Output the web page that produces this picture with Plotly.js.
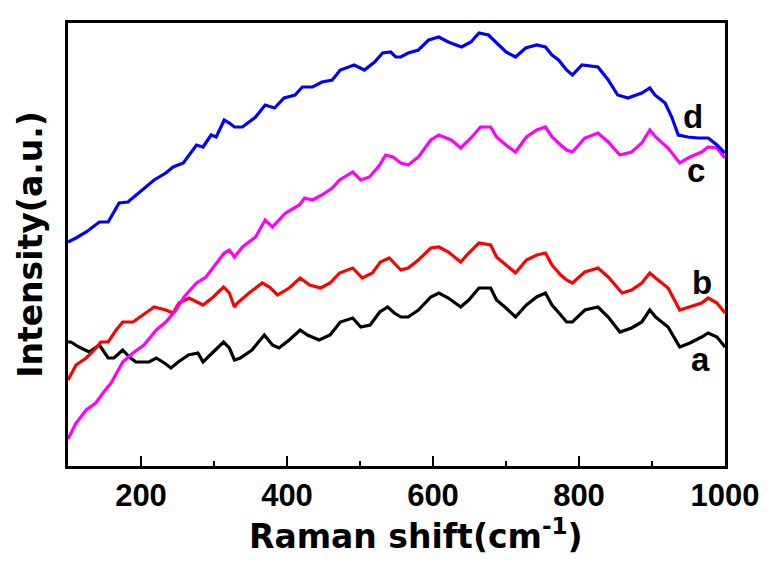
<!DOCTYPE html>
<html>
<head>
<meta charset="utf-8">
<script src="https://cdn.plot.ly/plotly-3.0.1.min.js"></script>
<style>html,body{margin:0;padding:0;background:#fff;}#chart{width:769px;height:562px;}</style>
</head>
<body>
<div id="chart"></div>
<script>
// Raman shift (cm^-1) and intensity (a.u.)
const xA = [100,104,115,129,143,155,163,175,184,193,211,221,232,241,251,265,278,285,299,313,321,328,
  336,352,369,380,389,403,418,428,444,459,473,490,501,514,527,538,547,556,
  566,580,597,608,621,638,649,663,679,687,700,713,728,742,754,763,775,783,
  791,808,826,840,856,872,886,897,905,922,938,952,968,977,989,1000];
const yA = [124,124,119,114,121,108,108,116,109,104,104,108,103,98,104,111,113,104,114,124,118,106,
  108,116,131,121,118,126,136,131,126,131,144,148,139,141,154,159,153,149,
  149,156,169,173,168,159,166,178,178,166,158,149,161,169,173,161,151,144,
  144,156,159,149,134,138,144,156,149,139,119,123,129,133,129,119];

const xB = [100,111,125,136,145,155,166,175,189,203,218,234,244,252,266,285,299,313,321,328,
  332,348,366,376,387,403,418,431,446,459,472,490,503,517,528,540,549,556,
  566,580,597,608,621,638,649,663,679,687,700,713,728,742,754,763,775,783,
  791,808,826,840,859,872,886,897,905,922,938,952,968,977,989,1000];
const yB = [86,101,108,116,124,124,136,144,144,151,159,156,153,163,168,161,169,179,173,159,
  163,173,183,179,171,178,188,181,178,183,193,198,188,193,204,208,201,196,
  198,206,218,219,214,204,213,223,221,209,201,193,206,211,213,201,191,186,
  183,194,198,189,173,176,183,193,188,178,156,159,163,168,163,153];

const xC = [100,111,125,138,149,159,175,189,204,221,234,248,259,276,289,300,314,321,328,
  339,357,370,380,398,417,424,435,448,462,472,490,501,513,527,535,545,556,
  566,580,597,608,625,638,652,665,679,687,700,713,728,742,754,763,775,783,
  791,808,826,840,856,872,886,897,905,922,938,952,968,977,989,1000];
const yC = [27,43,56,63,74,83,104,113,121,136,144,156,169,183,189,199,213,216,209,
  219,229,246,239,253,261,268,266,271,278,286,294,286,289,301,311,309,303,
  301,309,326,331,326,318,328,339,339,329,321,314,329,336,339,329,321,316,
  314,328,333,324,311,314,323,336,329,318,303,309,314,319,318,308];

const xD = [100,111,125,143,155,170,182,197,218,234,244,258,276,285,296,303,314,321,328,
  339,357,370,383,396,411,421,435,448,462,473,492,506,520,531,542,549,556,
  566,580,594,608,621,639,652,663,676,687,700,713,727,742,754,763,772,783,
  791,804,826,840,853,867,886,897,904,918,927,936,949,963,977,989,1000];
const yD = [224,228,234,244,244,263,264,273,286,293,299,303,321,319,331,329,346,343,339,
  339,349,361,358,368,371,379,379,384,386,396,401,396,404,413,414,409,409,
  413,416,426,429,424,419,424,433,431,423,414,409,418,421,419,411,406,396,
  391,401,399,386,371,368,373,378,371,363,349,331,329,328,328,321,313];

const curveLabels = ['a','b','c','d'];
const labelX = [966,969,960,956];
const labelY = [107,184,296,350];

const xTickVals = [200,400,600,800,1000];
const xTickText = ['200','400','600','800','1000'];

const series = [
  {x:xA, y:yA, color:'#000000', name:'a'},
  {x:xB, y:yB, color:'#ff0000', name:'b'},
  {x:xC, y:yC, color:'#ff00ff', name:'c'},
  {x:xD, y:yD, color:'#0000ff', name:'d'}
];

const traces = series.map(s => ({
  x: s.x, y: s.y, type:'scatter', mode:'lines', name:s.name,
  line:{color:s.color, width:3.2}, hoverinfo:'skip'
}));

const annotations = curveLabels.map((t,i) => ({
  x: labelX[i], y: labelY[i], xref:'x', yref:'y', text:t, showarrow:false,
  xanchor:'center', yanchor:'middle',
  font:{family:'Liberation Sans, Arial, sans-serif', size:33, color:'#000', weight:'bold'}
}));

// x-axis title (placed slightly right of centre, as in the reference)
annotations.push({
  x:0.53, y:-0.155, xref:'paper', yref:'paper', xanchor:'center', yanchor:'middle',
  text:'Raman shift(cm<sup>-1</sup>)', showarrow:false,
  font:{family:'DejaVu Sans, sans-serif', size:33, color:'#000', weight:'bold'}
});

const layout = {
  width:769, height:562,
  margin:{l:68, r:44, t:23, b:96},
  paper_bgcolor:'#fff', plot_bgcolor:'#fff',
  showlegend:false,
  xaxis:{
    range:[100,1000], tickmode:'array', tickvals:xTickVals, ticktext:xTickText,
    ticks:'inside', ticklen:10, tickwidth:2.5, tickcolor:'#000',
    minor:{tickvals:[300,500,700,900], ticks:'inside', ticklen:5, tickwidth:2.5, tickcolor:'#000'},
    showline:true, linewidth:3, linecolor:'#000', mirror:true,
    showgrid:false, zeroline:false,
    tickfont:{family:'Liberation Sans, Arial, sans-serif', size:31, color:'#000', weight:'bold'}
  },
  yaxis:{
    range:[0,443], showticklabels:false, ticks:'',
    showline:true, linewidth:3, linecolor:'#000', mirror:true,
    showgrid:false, zeroline:false,
    title:{text:'Intensity(a.u.)', standoff:13,
      font:{family:'DejaVu Sans, sans-serif', size:33, color:'#000', weight:'bold'}}
  },
  annotations: annotations
};

Plotly.newPlot('chart', traces, layout, {displayModeBar:false, staticPlot:true});
</script>
</body>
</html>
